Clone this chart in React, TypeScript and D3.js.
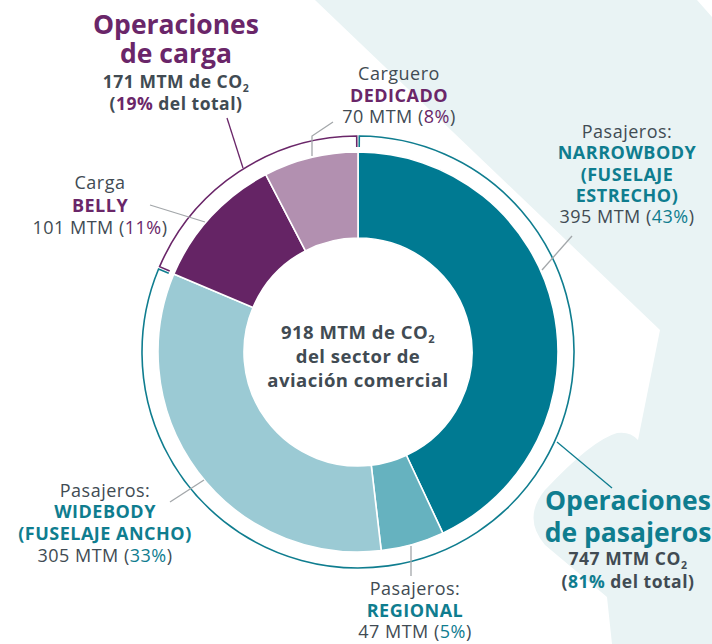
import React from "react";
import * as d3 from "d3";

// ---------- data ----------
const categories = ["Narrowbody", "Regional", "Widebody", "Belly", "Carguero dedicado"];
const values = [395, 47, 305, 101, 70];
const groups = ["pasajeros", "pasajeros", "pasajeros", "carga", "carga"];
const sliceColors = ["#007a92", "#66b2bf", "#9bcad4", "#652465", "#b290b0"];
const totalLabel = "918 MTM de CO";
const cargoTotal = 171;
const paxTotal = 747;

// ---------- style ----------
const W = 712, H = 644;
const cx = 358, cy = 352;
const rOuter = 200, rInner = 114, rRing = 216, rTick = 205;
const GRAY = "#414b53";
const PURPLE = "#6a2669";
const TEAL = "#0f7d8f";
const LEADER = "#a3a7aa";
const FONT = "'Open Sans', 'DejaVu Sans', sans-serif";

type Seg = { t: string; c?: string; sub?: boolean };
type Line = { y: number; size: number; bold?: boolean; color: string; segs: Seg[]; ls?: number };

function TextBlock({ x, lines }: { x: number; lines: Line[] }) {
  return (
    <g>
      {lines.map((l, i) => (
        <text
          key={i}
          x={x}
          y={l.y}
          textAnchor="middle"
          fontFamily={FONT}
          fontSize={l.size}
          fontWeight={l.bold ? 700 : 500}
          fill={l.color}
          letterSpacing={l.ls ?? 0.5}
        >
          {l.segs.map((s, j) =>
            s.sub ? (
              <tspan key={j} fontSize={l.size * 0.6} dy={4} fill={s.c || l.color}>
                {s.t}
              </tspan>
            ) : (
              <tspan key={j} fill={s.c || l.color} dy={j > 0 && l.segs[j - 1].sub ? -4 : 0}>
                {s.t}
              </tspan>
            )
          )}
        </text>
      ))}
    </g>
  );
}

function ringPath(a0: number, a1: number) {
  const p = d3.path();
  const ang = (a: number) => a - Math.PI / 2;
  p.moveTo(cx + rTick * Math.cos(ang(a0)), cy + rTick * Math.sin(ang(a0)));
  p.lineTo(cx + rRing * Math.cos(ang(a0)), cy + rRing * Math.sin(ang(a0)));
  p.arc(cx, cy, rRing, ang(a0), ang(a1), false);
  p.lineTo(cx + rTick * Math.cos(ang(a1)), cy + rTick * Math.sin(ang(a1)));
  return p.toString();
}

export default function App() {
  const pie = d3.pie<number>().sort(null).value((d) => d)(values);
  const arc = d3.arc<d3.PieArcDatum<number>>().innerRadius(rInner).outerRadius(rOuter);
  const total = d3.sum(values);
  const pct = (v: number) => Math.round((v / total) * 100) + "%";

  const paxIdx = groups.map((g, i) => (g === "pasajeros" ? i : -1)).filter((i) => i >= 0);
  const cargoIdx = groups.map((g, i) => (g === "carga" ? i : -1)).filter((i) => i >= 0);
  const gap = 0.006;
  const paxStart = pie[paxIdx[0]].startAngle + gap;
  const paxEnd = pie[paxIdx[paxIdx.length - 1]].endAngle - gap;
  const cargoStart = pie[cargoIdx[0]].startAngle + gap;
  const cargoEnd = pie[cargoIdx[cargoIdx.length - 1]].endAngle - gap;

  const lab = 18;
  const sub = 17.5;
  const big = 26.5;
  const bg =
    "M315,0 L697,0 L712,17 L712,644 L612,644 L607,597 L545,545 Q522,518 545,490 Q592,440 617,433 Q630,431 638,440 L660,330 Z";

  return (
    <svg width={W} height={H} style={{ position: "absolute", left: 0, top: 0 }}>
      <rect width={W} height={H} fill="#ffffff" />
      <path d={bg} fill="#e9f3f4" />

      {/* donut slices */}
      {pie.map((d, i) => (
        <path key={categories[i]} d={arc(d) || ""} transform={`translate(${cx},${cy})`} fill={sliceColors[i]} stroke="#ffffff" strokeWidth={1.6} />
      ))}

      {/* group rings */}
      <path d={ringPath(paxStart, paxEnd)} fill="none" stroke={TEAL} strokeWidth={1.6} />
      <path d={ringPath(cargoStart, cargoEnd)} fill="none" stroke={PURPLE} strokeWidth={1.6} />

      {/* leaders */}
      <g fill="none" strokeWidth={1.3}>
        <polyline points="333,122 312,136 312,156" stroke={LEADER} />
        <line x1={572} y1={236} x2={542} y2={270} stroke={LEADER} />
        <line x1={150} y1={205} x2={205} y2={222} stroke={LEADER} />
        <line x1={170} y1={502} x2={204} y2={480} stroke={LEADER} />
        <line x1={411} y1={546} x2={411} y2={576} stroke={LEADER} />
        <line x1={227} y1={118} x2={243} y2={168} stroke={PURPLE} />
        <line x1={557} y1={442} x2={612} y2={488} stroke={TEAL} />
      </g>

      {/* center */}
      <TextBlock
        x={cx}
        lines={[
          { y: 339, size: 18.5, bold: true, color: GRAY, segs: [{ t: totalLabel }, { t: "2", sub: true }] },
          { y: 363, size: 18.5, bold: true, color: GRAY, segs: [{ t: "del sector de" }] },
          { y: 387, size: 18.5, bold: true, color: GRAY, segs: [{ t: "aviación comercial" }] },
        ]}
      />

      {/* cargo title */}
      <TextBlock
        x={176}
        lines={[
          { y: 34, size: big, bold: true, color: PURPLE, segs: [{ t: "Operaciones" }], ls: 0 },
          { y: 63, size: big, bold: true, color: PURPLE, segs: [{ t: "de carga" }], ls: 0 },
          { y: 88, size: sub, bold: true, color: GRAY, segs: [{ t: `${cargoTotal} MTM de CO` }, { t: "2", sub: true }] },
          { y: 110, size: sub, bold: true, color: GRAY, segs: [{ t: "(" }, { t: pct(cargoTotal), c: PURPLE }, { t: " del total)" }] },
        ]}
      />

      {/* passenger title */}
      <TextBlock
        x={628}
        lines={[
          { y: 510, size: big, bold: true, color: TEAL, segs: [{ t: "Operaciones" }], ls: 0 },
          { y: 542, size: big, bold: true, color: TEAL, segs: [{ t: "de pasajeros" }], ls: 0 },
          { y: 565, size: sub, bold: true, color: GRAY, segs: [{ t: `${paxTotal} MTM CO` }, { t: "2", sub: true }] },
          { y: 588, size: sub, bold: true, color: GRAY, segs: [{ t: "(" }, { t: pct(paxTotal), c: TEAL }, { t: " del total)" }] },
        ]}
      />

      {/* carguero */}
      <TextBlock
        x={399}
        lines={[
          { y: 80, size: lab, color: GRAY, segs: [{ t: "Carguero" }] },
          { y: 102, size: lab, bold: true, color: PURPLE, segs: [{ t: "DEDICADO" }] },
          { y: 123, size: lab, color: GRAY, segs: [{ t: `${values[4]} MTM (` }, { t: pct(values[4]), c: PURPLE }, { t: ")" }] },
        ]}
      />

      {/* narrowbody */}
      <TextBlock
        x={627}
        lines={[
          { y: 138, size: lab, color: GRAY, segs: [{ t: "Pasajeros:" }] },
          { y: 159, size: lab, bold: true, color: TEAL, segs: [{ t: "NARROWBODY" }] },
          { y: 181, size: lab, bold: true, color: TEAL, segs: [{ t: "(FUSELAJE" }] },
          { y: 202, size: lab, bold: true, color: TEAL, segs: [{ t: "ESTRECHO)" }] },
          { y: 223, size: lab, color: GRAY, segs: [{ t: `${values[0]} MTM (` }, { t: pct(values[0]), c: TEAL }, { t: ")" }] },
        ]}
      />

      {/* belly */}
      <TextBlock
        x={100}
        lines={[
          { y: 189, size: lab, color: GRAY, segs: [{ t: "Carga" }] },
          { y: 212, size: lab, bold: true, color: PURPLE, segs: [{ t: "BELLY" }] },
          { y: 234, size: lab, color: GRAY, segs: [{ t: `${values[3]} MTM (` }, { t: pct(values[3]), c: PURPLE }, { t: ")" }] },
        ]}
      />

      {/* widebody */}
      <TextBlock
        x={105}
        lines={[
          { y: 497, size: lab, color: GRAY, segs: [{ t: "Pasajeros:" }] },
          { y: 518, size: lab, bold: true, color: TEAL, segs: [{ t: "WIDEBODY" }] },
          { y: 540, size: lab, bold: true, color: TEAL, segs: [{ t: "(FUSELAJE ANCHO)" }] },
          { y: 562, size: lab, color: GRAY, segs: [{ t: `${values[2]} MTM (` }, { t: pct(values[2]), c: TEAL }, { t: ")" }] },
        ]}
      />

      {/* regional */}
      <TextBlock
        x={415}
        lines={[
          { y: 595, size: lab, color: GRAY, segs: [{ t: "Pasajeros:" }] },
          { y: 617, size: lab, bold: true, color: TEAL, segs: [{ t: "REGIONAL" }] },
          { y: 638, size: lab, color: GRAY, segs: [{ t: `${values[1]} MTM (` }, { t: pct(values[1]), c: TEAL }, { t: ")" }] },
        ]}
      />
    </svg>
  );
}
